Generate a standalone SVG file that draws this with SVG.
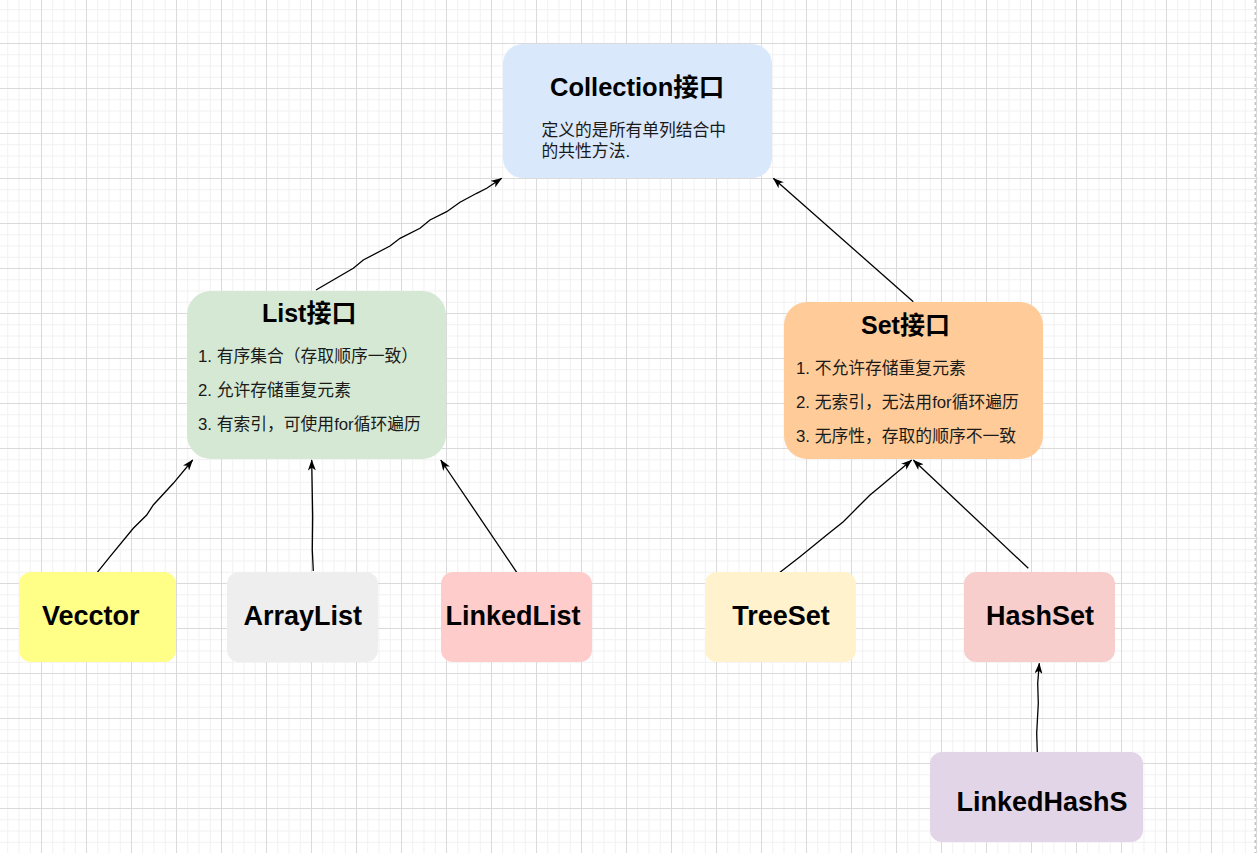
<svg xmlns="http://www.w3.org/2000/svg" width="1258" height="853" viewBox="0 0 1258 853">
<style>
.title{font-family:"Liberation Sans","Noto Sans CJK SC",sans-serif;font-weight:bold;font-size:25px;fill:#000}
.body{font-family:"Liberation Sans","Noto Sans CJK SC",sans-serif;font-size:16.8px;fill:#1a1a1a}
.leaf{font-family:"Liberation Sans","Noto Sans CJK SC",sans-serif;font-weight:bold;font-size:27px;fill:#000;text-anchor:middle}
.edge{fill:none;stroke:#000;stroke-width:1.3;marker-end:url(#arrow)}
</style>
<defs>
<pattern id="grid" patternUnits="userSpaceOnUse" x="41" y="43" width="45" height="45">
<path d="M11.75,0V45M23,0V45M34.25,0V45M0,11.75H45M0,23H45M0,34.25H45" stroke="#f1f1f1" stroke-width="1" fill="none"/>
<path d="M0.5,0V45M0,0.5H45" stroke="#dadada" stroke-width="1" fill="none"/>
</pattern>
<marker id="arrow" markerUnits="userSpaceOnUse" viewBox="0 0 11 8" refX="10.5" refY="4" markerWidth="11" markerHeight="8" orient="auto">
<path d="M0,0 L11,4 L0,8 L3,4 z" fill="#000"/>
</marker>
</defs>
<rect width="1258" height="853" fill="#fff"/>
<rect width="1258" height="853" fill="url(#grid)"/>
<line x1="1255.3" y1="0" x2="1255.3" y2="853" stroke="#c4c4c4" stroke-width="1.5" stroke-dasharray="3 3"/>

<g id="connectors">
<path class="edge" d="M316,290 L353.3,268.3 L363.3,260 L390,246 L400,238.3 L420,228.3 L430,220 L446.7,211.7 L460,202.3 L476.7,193.3 L486.7,188.3 L501.7,178.3"/>
<path class="edge" d="M913.3,301.7 L773.3,178.3"/>
<path class="edge" d="M97.3,572.3 L110,556.7 L133.3,528.3 L146.7,515 L153.3,505 L173.3,483.3 L192.7,460"/>
<path class="edge" d="M313.3,571 L312.3,550 L312.7,516.7 L311.7,460"/>
<path class="edge" d="M516.7,572.3 L440.7,460"/>
<path class="edge" d="M780,572.3 L800,556.7 L826.7,535 L843.3,521.7 L856.7,508.3 L870,495 L880,486.7 L911.7,460"/>
<path class="edge" d="M1028.3,568.3 L913.3,460"/>
<path class="edge" d="M1037.3,752.3 L1036.7,733.3 L1038.3,703.3 L1037.7,683.3 L1039.3,663.3"/>
</g>

<g id="collection">
<rect x="503" y="44" width="269" height="134" rx="20" fill="#dae8fc"/>
<text class="title" x="550" y="96" style="font-size:25.5px">Collection接口</text>
<text class="body" x="541.5" y="136">定义的是所有单列结合中</text>
<text class="body" x="541.5" y="157">的共性方法.</text>
</g>

<g id="list">
<rect x="187" y="291" width="259" height="168" rx="24" fill="#d5e8d4"/>
<text class="title" x="262" y="322">List接口</text>
<text class="body" x="198" y="361.5">1. 有序集合（存取顺序一致）</text>
<text class="body" x="198" y="395.5">2. 允许存储重复元素</text>
<text class="body" x="198" y="429.5">3. 有索引，可使用for循环遍历</text>
</g>

<g id="set">
<rect x="784" y="302" width="259" height="157" rx="23" fill="#ffcc99"/>
<text class="title" x="861" y="334">Set接口</text>
<text class="body" x="796" y="373.5">1. 不允许存储重复元素</text>
<text class="body" x="796" y="407.5">2. 无索引，无法用for循环遍历</text>
<text class="body" x="796" y="441.5">3. 无序性，存取的顺序不一致</text>
</g>

<g id="vecctor">
<rect x="19" y="572" width="157" height="90" rx="12" fill="#ffff88"/>
<text class="leaf" x="90.8" y="625">Vecctor</text>
</g>

<g id="arraylist">
<rect x="227" y="572" width="151" height="90" rx="12" fill="#eeeeee"/>
<text class="leaf" x="302.8" y="625">ArrayList</text>
</g>

<g id="linkedlist">
<rect x="441" y="572" width="151" height="90" rx="12" fill="#ffcccc"/>
<text class="leaf" x="513" y="625">LinkedList</text>
</g>

<g id="treeset">
<rect x="705" y="572" width="151" height="90" rx="12" fill="#fff2cc"/>
<text class="leaf" x="781" y="625">TreeSet</text>
</g>

<g id="hashset">
<rect x="964" y="572" width="151" height="90" rx="12" fill="#f8cecc"/>
<text class="leaf" x="1040" y="625">HashSet</text>
</g>

<g id="linkedhashset">
<rect x="930" y="752" width="213" height="90" rx="12" fill="#e1d5e7"/>
<text class="leaf" x="1042" y="810.5">LinkedHashS</text>
</g>
</svg>
